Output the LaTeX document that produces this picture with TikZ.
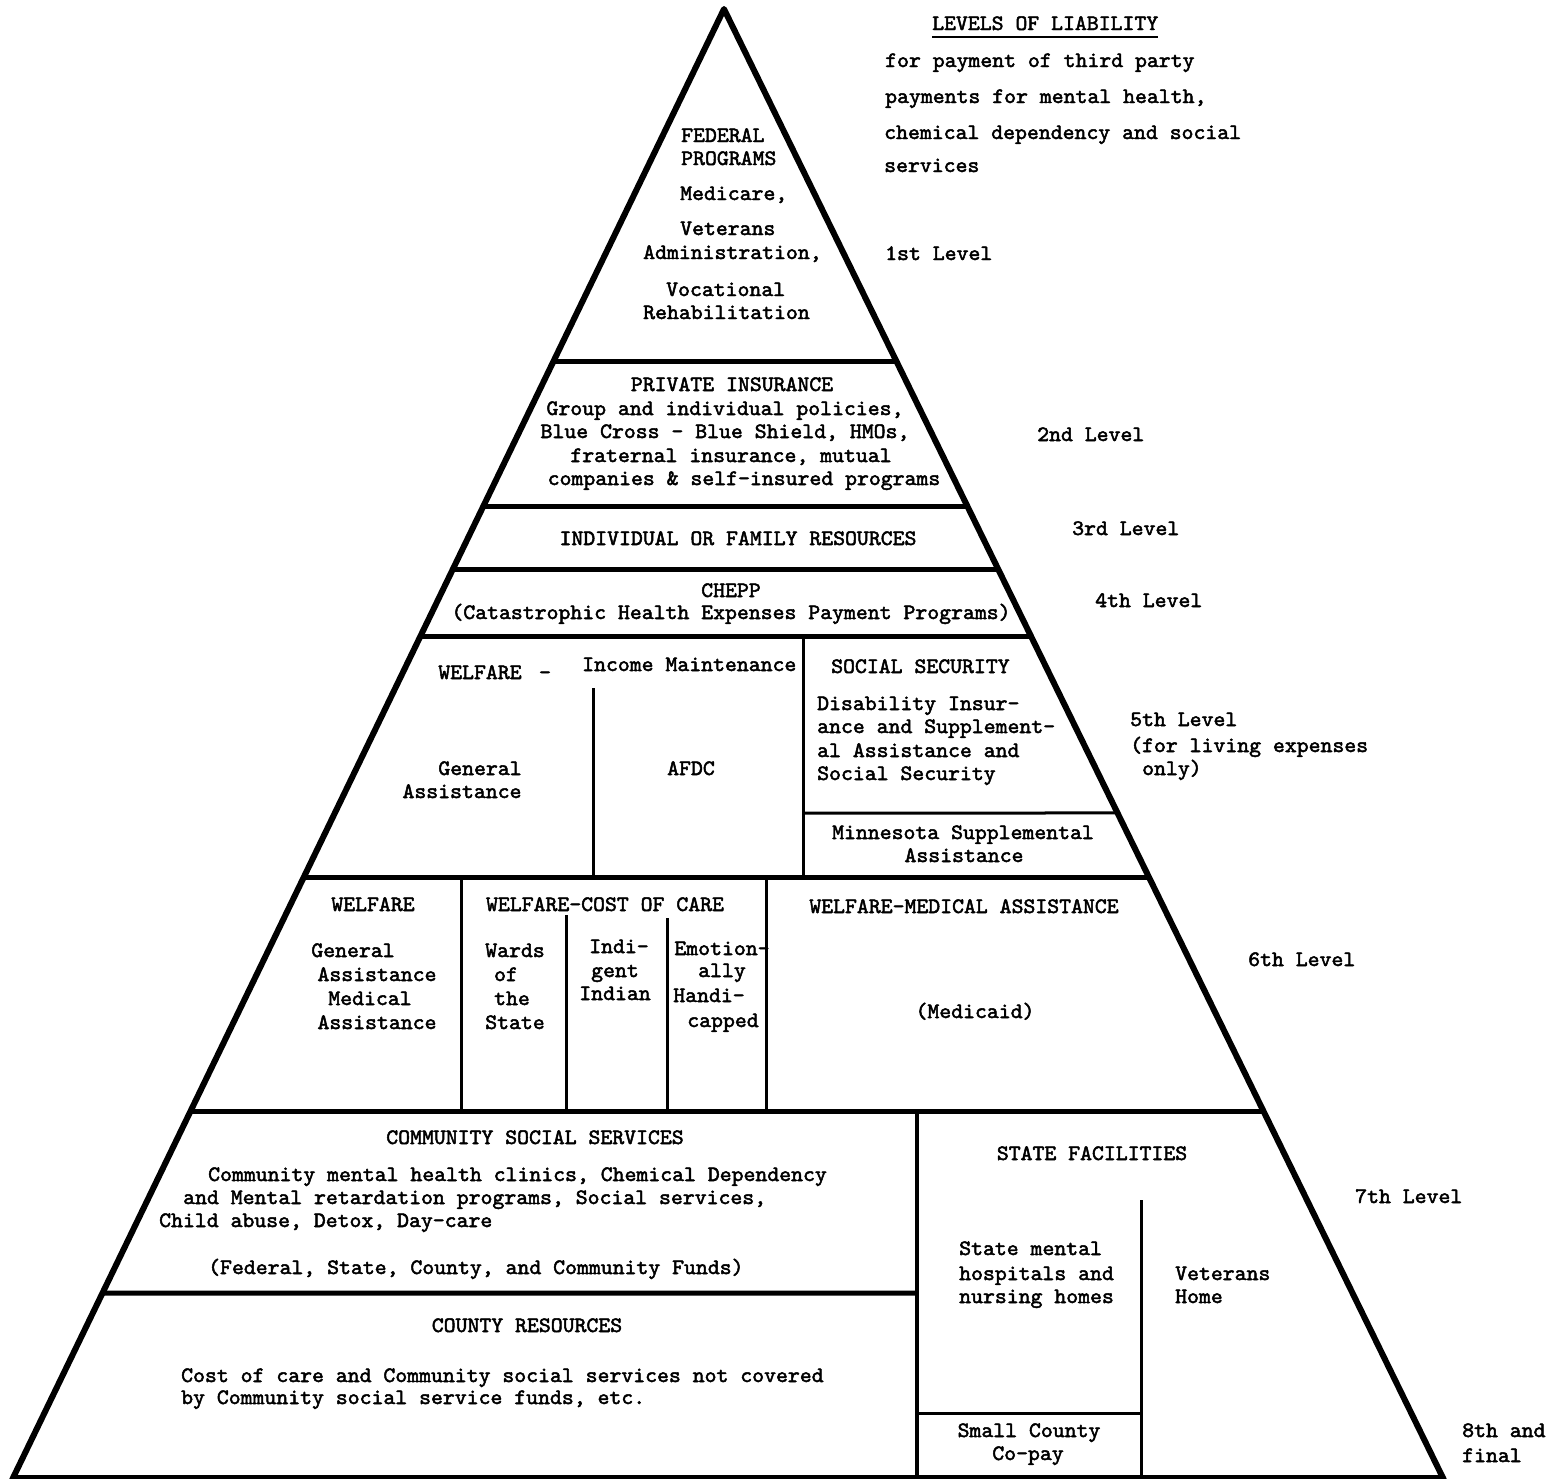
\documentclass[tikz,border=0pt]{standalone}
\usepackage{fontspec}
\newfontfamily\tw{lmmono10-regular.otf}[FakeStretch=1.03,FakeBold=2.2]
\usetikzlibrary{calc}
\begin{document}
\begin{tikzpicture}[x=1pt,y=-1pt,
  lbl/.style={font=\tw\fontsize{22}{27}\selectfont, inner sep=0pt, anchor=base},
  lbw/.style={lbl, anchor=base west},
  edgeline/.style={line width=6pt, line join=round},
  lvl/.style={line width=5pt},
  thinline/.style={line width=3pt},
  midline/.style={line width=4pt}]
\useasboundingbox (0,0) rectangle (1549,1478);
\fill[white] (0,0) rectangle (1549,1478);
% pyramid outline
\coordinate (apex) at (724,9);
\coordinate (bl) at (12,1480);
\coordinate (br) at (1444,1480);
\draw[edgeline] (bl) -- (apex) -- (br);
% level lines
\foreach \yy in {362,507,570,637,878,1112}{
  \draw[lvl] ($(apex)!{(\yy-9)/1471}!(bl)$) -- ($(apex)!{(\yy-9)/1471}!(br)$);
}
\coordinate (v7top) at (917,1112);
\coordinate (v7bot) at (917,1477);
\draw[lvl] ($(apex)!{(1293-9)/1471}!(bl)$) -- (917,1293);
\draw[midline] ($(apex)!{(1477-9)/1471}!(bl)$) -- ($(apex)!{(1477-9)/1471}!(br)$);
% level 5 partitions
\draw[thinline] (803,637) -- (803,878);
\draw[thinline] (593,688) -- (593,878);
\draw[thinline] (803,813) -- ($(apex)!{(813-9)/1471}!(br)$);
% level 6 partitions
\draw[thinline] (461,878) -- (461,1112);
\draw[thinline] (566,915) -- (566,1112);
\draw[thinline] (667,918) -- (667,1112);
\draw[thinline] (766,878) -- (766,1112);
% level 7 partitions
\draw[midline] (v7top) -- (v7bot);
\draw[thinline] (1141,1200) -- (1141,1477);
\draw[thinline] (917,1413) -- (1141,1413);

% right-hand legend
\node[lbw] (title) at (932,30) {LEVELS OF LIABILITY};
\draw[line width=1.8pt] ($(title.base west)+(0,7)$) -- ($(title.base east)+(0,7)$);
\node[lbw] (d1) at (885,67) {for payment of third party};
\node[lbw] (d2) at (885,103) {payments for mental health,};
\node[lbw] (d3) at (884,139) {chemical dependency and social};
\node[lbw] (d4) at (884,172) {services};
\node[lbw] (lv1) at (885,260) {1st Level};
\node[lbw] (lv2) at (1037,441) {2nd Level};
\node[lbw] (lv3) at (1072,535) {3rd Level};
\node[lbw] (lv4) at (1095,607) {4th Level};
\node[lbw] (lv5) at (1130,726) {5th Level};
\node[lbw] (lv5b) at (1130,752) {(for living expenses};
\node[lbw] (lv5c) at (1142,775) {only)};
\node[lbw] (lv6) at (1248,966) {6th Level};
\node[lbw] (lv7) at (1355,1203) {7th Level};
\node[lbw] (lv8) at (1462,1437) {8th and};
\node[lbw] (lv8b) at (1462,1462) {final};

% level 1
\node[lbw] (fed1) at (681,142) {FEDERAL};
\node[lbw] (fed2) at (681,165) {PROGRAMS};
\node[lbw] (fed3) at (680,200) {Medicare,};
\node[lbw] (fed4) at (680,235) {Veterans};
\node[lbw] (fed5) at (643,259) {Administration,};
\node[lbw] (fed6) at (666,296) {Vocational};
\node[lbw] (fed7) at (643,319) {Rehabilitation};

% level 2
\node[lbl] (pi1) at (732,391) {PRIVATE INSURANCE};
\node[lbl] (pi2) at (725,415) {Group and individual policies,};
\node[lbl] (pi3) at (725,438) {Blue Cross - Blue Shield, HMOs,};
\node[lbl] (pi4) at (731,462) {fraternal insurance, mutual};
\node[lbl] (pi5) at (744,485) {companies \& self-insured programs};

% level 3
\node[lbl] (ind) at (738,545) {INDIVIDUAL OR FAMILY RESOURCES};

% level 4
\node[lbl] (ch1) at (731,597) {CHEPP};
\node[lbl] (ch2) at (731,619) {(Catastrophic Health Expenses Payment Programs)};

% level 5
\node[lbl] (w5a) at (480,679) {WELFARE};
\node[lbl] (w5d) at (545,679) {-};
\node[lbw] (w5b) at (582,671) {Income Maintenance};
\node[lbl] (ga1) at (480,775) {General};
\node[lbl] (ga2) at (462,798) {Assistance};
\node[lbl] (afdc) at (691,775) {AFDC};
\node[lbw] (ss1) at (831,673) {SOCIAL SECURITY};
\node[lbw] (ss2) at (817,710) {Disability Insur-};
\node[lbw] (ss3) at (817,733) {ance and Supplement-};
\node[lbw] (ss4) at (817,757) {al Assistance and};
\node[lbw] (ss5) at (817,780) {Social Security};
\node[lbl] (ms1) at (963,839) {Minnesota Supplemental};
\node[lbl] (ms2) at (964,862) {Assistance};

% level 6
\node[lbl] (w6) at (373,911) {WELFARE};
\node[lbl] (gm1) at (353,957) {General};
\node[lbl] (gm2) at (377,981) {Assistance};
\node[lbl] (gm3) at (370,1005) {Medical};
\node[lbl] (gm4) at (377,1029) {Assistance};
\node[lbl] (cc) at (605,911) {WELFARE-COST OF CARE};
\node[lbl] (wd1) at (515,957) {Wards};
\node[lbl] (wd2) at (506,981) {of};
\node[lbl] (wd3) at (512,1005) {the};
\node[lbl] (wd4) at (515,1029) {State};
\node[lbl] (ii1) at (619,953) {Indi-};
\node[lbl] (ii2) at (615,977) {gent};
\node[lbl] (ii3) at (615,1000) {Indian};
\node[lbl] (em1) at (722,955) {Emotion-};
\node[lbl] (em2) at (722,977) {ally};
\node[lbl] (em3) at (709,1002) {Handi-};
\node[lbl] (em4) at (723,1027) {capped};
\node[lbl] (ma) at (964,913) {WELFARE-MEDICAL ASSISTANCE};
\node[lbl] (mc) at (975,1018) {(Medicaid)};

% level 7 / 8
\node[lbl] (cs1) at (535,1144) {COMMUNITY SOCIAL SERVICES};
\node[lbw] (cs2) at (208,1181) {Community mental health clinics, Chemical Dependency};
\node[lbw] (cs3) at (183,1204) {and Mental retardation programs, Social services,};
\node[lbw] (cs4) at (159,1227) {Child abuse, Detox, Day-care};
\node[lbw] (cs5) at (208,1274) {(Federal, State, County, and Community Funds)};
\node[lbl] (cr1) at (527,1332) {COUNTY RESOURCES};
\node[lbw] (cr2) at (181,1382) {Cost of care and Community social services not covered};
\node[lbw] (cr3) at (181,1404) {by Community social service funds, etc.};
\node[lbl] (sf1) at (1092,1160) {STATE FACILITIES};
\node[lbw] (sf2) at (959,1255) {State mental};
\node[lbw] (sf3) at (959,1280) {hospitals and};
\node[lbw] (sf4) at (959,1303) {nursing homes};
\node[lbw] (vh1) at (1175,1280) {Veterans};
\node[lbw] (vh2) at (1175,1303) {Home};
\node[lbl] (sc1) at (1029,1437) {Small County};
\node[lbl] (sc2) at (1028,1460) {Co-pay};
\end{tikzpicture}
\end{document}
